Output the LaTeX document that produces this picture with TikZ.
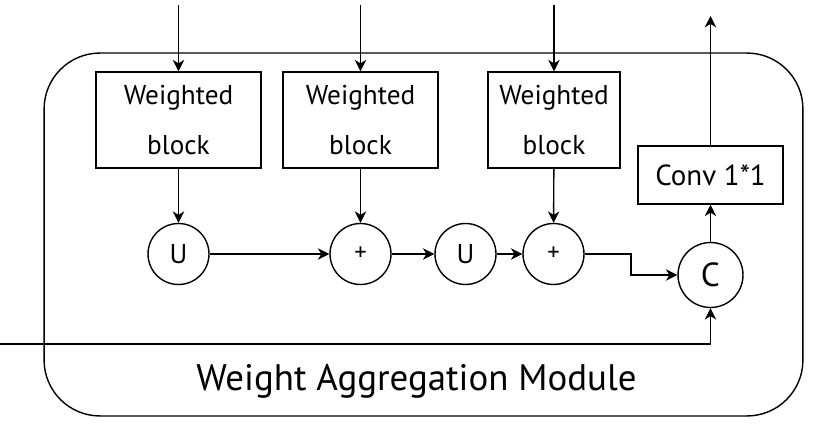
\documentclass[tikz,border=0pt]{standalone}
\usepackage{fontspec}
\setmainfont{PT Sans}
\usetikzlibrary{positioning, arrows.meta}

\tikzset{
	wblock/.style={draw, minimum height=1.92cm, inner sep=0pt, align=center, font=\fontsize{15.5}{29}\selectfont},
	op/.style={draw, circle, minimum size=1.22cm, inner sep=0pt, font=\fontsize{15.5}{17}\selectfont},
}

\begin{document}
\begin{tikzpicture}[x=0.02cm, y=-0.02cm, line width=0.8pt, >={Stealth[length=6.5pt, width=6.5pt, inset=2pt]}]
		\useasboundingbox (0,0) rectangle (820,442);
		
		\node[draw, rounded corners=1.12cm, minimum width=15.18cm, minimum height=7.26cm] (wam) at (423.5,234.5) {};
		\node[font=\fontsize{21}{24}\selectfont] (title) at (416.5,381) {Weight Aggregation Module};
		
		\node[wblock, minimum width=3.3cm] (b1) at (178.5,120) {Weighted\\block};
		\node[wblock, minimum width=3.1cm] (b2) at (360.5,120) {Weighted\\block};
		\node[wblock, minimum width=2.64cm] (b3) at (554,120) {Weighted\\block};
		\node[draw, minimum width=2.9cm, minimum height=1.16cm, font=\fontsize{16.5}{18}\selectfont] (conv) at (710.5,175) {Conv 1*1};
		
		\node[op] (u1) at (178.5,254) {U};
		\node[op, font=\fontsize{14}{15}\selectfont] (p1) at (360.5,254) {+};
		\node[op] (u2) at (465.5,254) {U};
		\node[op, font=\fontsize{14}{15}\selectfont] (p2) at (553.5,254) {+};
		\node[op, minimum size=1.3cm, font=\fontsize{19}{21}\selectfont] (cc) at (710.5,275) {C};
		
		\coordinate (in1) at (178.5,5);
		\coordinate (in2) at (360.5,5);
		\coordinate (in3) at (554,5);
		\coordinate (out) at (710.5,16);
		\coordinate (bend) at (631,254);
		\coordinate (skip) at (0,344);
		
		\draw[->] (in1) -- (b1);
		\draw[->] (in2) -- (b2);
		\draw[->] (in3) -- (b3);
		\draw[->] (b1) -- (u1);
		\draw[->] (b2) -- (p1);
		\draw[->] (b3) -- (p2);
		\draw[->] (u1) -- (p1);
		\draw[->] (p1) -- (u2);
		\draw[->] (u2) -- (p2);
		\draw[->] (p2) -- (bend) |- (cc);
		\draw[->] (skip) -| (cc);
		\draw[->] (cc) -- (conv);
		\draw[->] (conv) -- (out);
		
	\end{tikzpicture}
\end{document}
